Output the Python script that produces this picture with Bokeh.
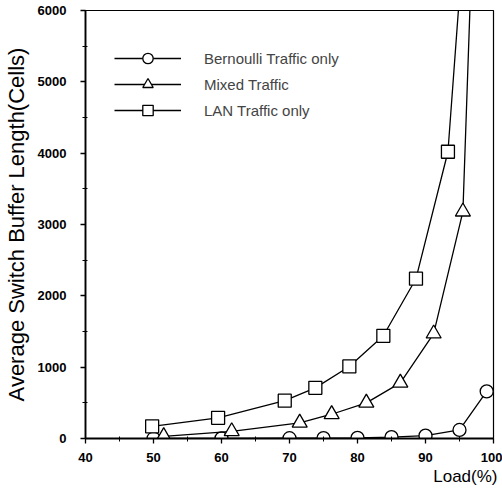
from bokeh.plotting import figure
from bokeh.models import Legend, LegendItem, Title, FixedTicker, Range1d
from bokeh.embed import file_html
from bokeh.resources import INLINE

# ---- data ----
bern_x = [50, 60, 70, 75, 80, 85, 90, 95, 99]
bern_y = [0, 2, 4, 6, 10, 20, 40, 120, 660]

mixed_x = [51.5, 61.5, 71.5, 76.2, 81.3, 86.3, 91.2, 95.5, 97]
mixed_y = [30, 100, 220, 340, 500, 780, 1470, 3180, 7300]

lan_x = [49.8, 59.5, 69.3, 73.8, 78.8, 83.8, 88.6, 93.3, 96]
lan_y = [170, 290, 530, 710, 1010, 1440, 2240, 4020, 7500]

x_ticks = [40, 50, 60, 70, 80, 90, 100]
y_ticks = [0, 1000, 2000, 3000, 4000, 5000, 6000]
series_names = ["Bernoulli Traffic only", "Mixed Traffic", "LAN Traffic only"]
x_title = "Load(%)"
y_title = "Average Switch Buffer Length(Cells)"

FONT = "Liberation Sans"

p = figure(width=502, height=489, output_backend="svg", toolbar_location=None,
           x_range=Range1d(40, 100), y_range=Range1d(0, 6000),
           min_border_left=82, min_border_right=9, min_border_top=10,
           min_border_bottom=51)
p.xgrid.visible = False
p.ygrid.visible = False
p.outline_line_color = "black"
p.outline_line_width = 1.2
p.background_fill_color = "white"
p.border_fill_color = "white"

for ax in (p.xaxis[0], p.yaxis[0]):
    ax.axis_line_width = 1.8
    ax.axis_line_color = "black"
    ax.major_tick_out = 5
    ax.major_tick_in = 0
    ax.minor_tick_out = 3
    ax.minor_tick_in = 2
    ax.major_tick_line_width = 1.3
    ax.minor_tick_line_width = 1
    ax.major_label_text_font = FONT
    ax.major_label_text_font_size = "13px"
    ax.major_label_text_font_style = "bold"
    ax.major_label_text_color = "black"

p.xaxis.ticker = FixedTicker(ticks=x_ticks, minor_ticks=[45, 55, 65, 75, 85, 95])
p.yaxis.ticker = FixedTicker(ticks=y_ticks, minor_ticks=[500, 1500, 2500, 3500, 4500, 5500])
p.xaxis.major_label_standoff = 9
p.yaxis.major_label_standoff = 14

p.yaxis.axis_label = y_title
p.yaxis.axis_label_text_font = FONT
p.yaxis.axis_label_text_font_size = "22px"
p.yaxis.axis_label_text_font_style = "normal"
p.yaxis.axis_label_text_color = "black"
p.yaxis.axis_label_standoff = 6

lw = 1.3
r_bl = p.line(bern_x, bern_y, line_color="black", line_width=lw)
r_bm = p.scatter(bern_x, bern_y, marker="circle", size=13, fill_color="white",
                 line_color="black", line_width=lw)
r_ml = p.line(mixed_x, mixed_y, line_color="black", line_width=lw)
r_mm = p.scatter(mixed_x, mixed_y, marker="triangle", size=15, fill_color="white",
                 line_color="black", line_width=lw)
r_ll = p.line(lan_x, lan_y, line_color="black", line_width=lw)
r_lm = p.scatter(lan_x, lan_y, marker="square", size=13, fill_color="white",
                 line_color="black", line_width=lw)

legend = Legend(items=[
    LegendItem(label=series_names[0], renderers=[r_bl, r_bm]),
    LegendItem(label=series_names[1], renderers=[r_ml, r_mm]),
    LegendItem(label=series_names[2], renderers=[r_ll, r_lm]),
], location=(29, 315))
legend.glyph_width = 67
legend.glyph_height = 26
legend.label_height = 20
legend.spacing = 0
legend.padding = 0
legend.margin = 0
legend.label_standoff = 23
legend.label_text_font = FONT
legend.label_text_font_size = "15px"
legend.label_text_baseline = "middle"
legend.border_line_color = None
legend.background_fill_alpha = 0
p.add_layout(legend, "center")

xt = Title(text=x_title, align="right", text_font=FONT, text_font_size="17px",
           text_font_style="normal", text_color="black", offset=-4, standoff=0)
p.add_layout(xt, "below")

open("out.html", "w").write(file_html(p, INLINE))
